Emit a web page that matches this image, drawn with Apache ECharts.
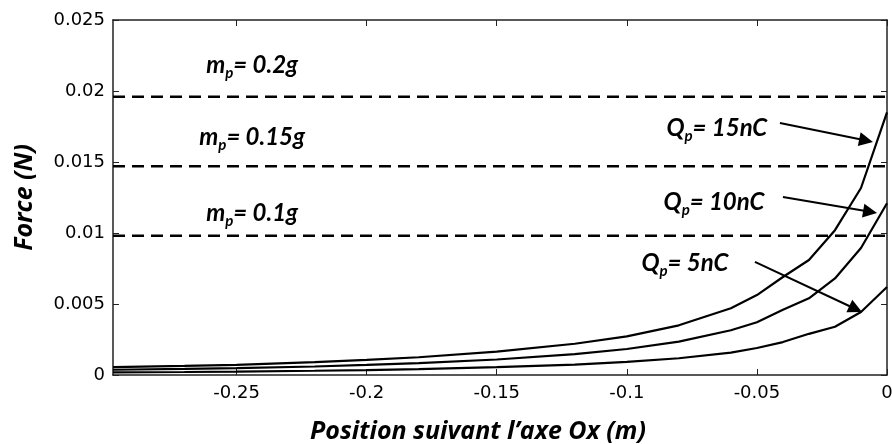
<!DOCTYPE html>
<html><head><meta charset="utf-8">
<script src="https://cdn.jsdelivr.net/npm/echarts@6/dist/echarts.min.js"></script>
<style>html,body{margin:0;padding:0;background:#fff}#c{width:892px;height:444px}</style>
</head><body><div id="c"></div>
<script>
// ---- data ----
const xPos    = [-0.2975,-0.27,-0.25,-0.22,-0.2,-0.18,-0.15,-0.12,-0.1,-0.08,-0.06,-0.05,-0.04,-0.03,-0.02,-0.01,0];
const force15 = [0.00056,0.00064,0.00072,0.00090,0.00106,0.00125,0.00164,0.00220,0.00272,0.00350,0.00470,0.00563,0.00690,0.00810,0.01020,0.01317,0.0185];
const force10 = [0.00037,0.00043,0.00048,0.00060,0.00071,0.00083,0.00109,0.00147,0.00183,0.00235,0.00315,0.00372,0.00460,0.00540,0.00680,0.00894,0.0121];
const force5  = [0.00019,0.00021,0.00024,0.00030,0.00035,0.00042,0.00055,0.00073,0.00092,0.00118,0.00158,0.00190,0.00232,0.00290,0.00340,0.00444,0.0062];
const weightLevels = [0.0196, 0.0147, 0.0098];
const weightLabels = ['0.2g', '0.15g', '0.1g'];
const chargeLabels = ['15nC', '10nC', '5nC'];
const xTicks = [-0.25,-0.2,-0.15,-0.1,-0.05,0];
const xTickLabels = ['-0.25','-0.2','-0.15','-0.1','-0.05','0'];
const yTickLabels = ['0','0.005','0.01','0.015','0.02','0.025'];
const xMin = -0.2975, xMax = 0;

// annotation anchors (data coordinates)
const weightLabelPos = [[-0.244,0.02183],[-0.244,0.01676],[-0.244,0.01141]];
const chargeLabelPos = [[-0.0654,0.01739],[-0.0665,0.01218],[-0.0777,0.00789]];
const arrowFrom = [[-0.04115,0.01775],[-0.0400,0.01254],[-0.05077,0.00796]];
const arrowTo   = [[-0.00804,0.01651],[-0.0065,0.01149],[-0.01204,0.00465]];

const lblFont = 'Lato';
const titleFont = 'Open Sans';
function richLabel(letter, rest){ return '{a|' + letter + '}{s|p}{a|= ' + rest + '}'; }
const richStyle = {
  a:{fontFamily:lblFont,fontStyle:'italic',fontWeight:'bold',fontSize:24,lineHeight:32,color:'#000'},
  s:{fontFamily:lblFont,fontStyle:'italic',fontWeight:'bold',fontSize:15,lineHeight:15,verticalAlign:'bottom',color:'#000'}
};

const curves = [force15, force10, force5].map(function(arr){
  return {
    type:'line', symbol:'none', animation:false,
    data: xPos.map(function(x,i){ return [x, arr[i]]; }),
    lineStyle:{color:'#000', width:2.2}
  };
});
const dashes = weightLevels.map(function(v){
  return {
    type:'line', symbol:'none', animation:false,
    data:[[xMin, v],[xMax, v]],
    lineStyle:{color:'#000', width:2.5, type:[12,7]}
  };
});
const annot = {
  type:'line', data:[], animation:false,
  markPoint:{
    symbol:'rect', symbolSize:1, itemStyle:{color:'rgba(0,0,0,0)'},
    label:{show:true, position:'inside', rich:richStyle},
    data: weightLabelPos.map(function(p,i){ return {coord:p, label:{formatter:richLabel('m', weightLabels[i])}}; })
      .concat(chargeLabelPos.map(function(p,i){ return {coord:p, label:{formatter:richLabel('Q', chargeLabels[i])}}; }))
  },
  markLine:{
    silent:true, symbol:['none','triangle'], symbolSize:14,
    lineStyle:{color:'#000', width:2, type:'solid'},
    label:{show:false},
    itemStyle:{color:'#000'},
    data: arrowFrom.map(function(p,i){ return [{coord:p},{coord:arrowTo[i]}]; })
  }
};

const axisLine = {show:true, onZero:false, lineStyle:{color:'#222', width:1.5}};
const tickFont = {fontFamily:'DejaVu Sans', fontSize:18, color:'#000'};
const titleStyle = {fontFamily:titleFont, fontStyle:'italic', fontWeight:'bold', fontSize:25, color:'#000'};

const option = {
  animation:false,
  backgroundColor:'#fff',
  grid:{left:113, right:5, top:20, bottom:69, containLabel:false, outerBoundsMode:'none'},
  xAxis:[{
    type:'value', min:xMin, max:xMax, position:'bottom',
    axisLine:axisLine, splitLine:{show:false},
    axisTick:{show:true, inside:true, length:6, customValues:xTicks, lineStyle:{color:'#222'}},
    axisLabel:Object.assign({margin:9, customValues:xTicks, formatter:function(v){
      const i = xTicks.findIndex(function(t){ return Math.abs(t-v) < 1e-9; });
      return i >= 0 ? xTickLabels[i] : '';
    }}, tickFont),
    name:'Position suivant l\u2019axe Ox (m)', nameLocation:'middle', nameGap:44,
    nameTextStyle:Object.assign({padding:[0,44,0,0]}, titleStyle)
  },{
    type:'value', min:xMin, max:xMax, position:'top',
    axisLine:axisLine, splitLine:{show:false},
    axisTick:{show:true, inside:true, length:6, customValues:xTicks, lineStyle:{color:'#222'}},
    axisLabel:{show:false}
  }],
  yAxis:[{
    type:'value', min:0, max:0.025, interval:0.005, position:'left',
    axisLine:axisLine, splitLine:{show:false},
    axisTick:{show:true, inside:true, length:6, lineStyle:{color:'#222'}},
    axisLabel:Object.assign({margin:8, formatter:function(v){ return yTickLabels[Math.round(v/0.005)]; }}, tickFont),
    name:'Force (N)', nameLocation:'middle', nameGap:76, nameRotate:90,
    nameTextStyle:titleStyle
  },{
    type:'value', min:0, max:0.025, interval:0.005, position:'right',
    axisLine:axisLine, splitLine:{show:false},
    axisTick:{show:true, inside:true, length:6, lineStyle:{color:'#222'}},
    axisLabel:{show:false}
  }],
  series: curves.concat(dashes).concat([annot])
};
const chart = echarts.init(document.getElementById('c'), null, {renderer:'canvas'});
chart.setOption(option);
</script></body></html>
